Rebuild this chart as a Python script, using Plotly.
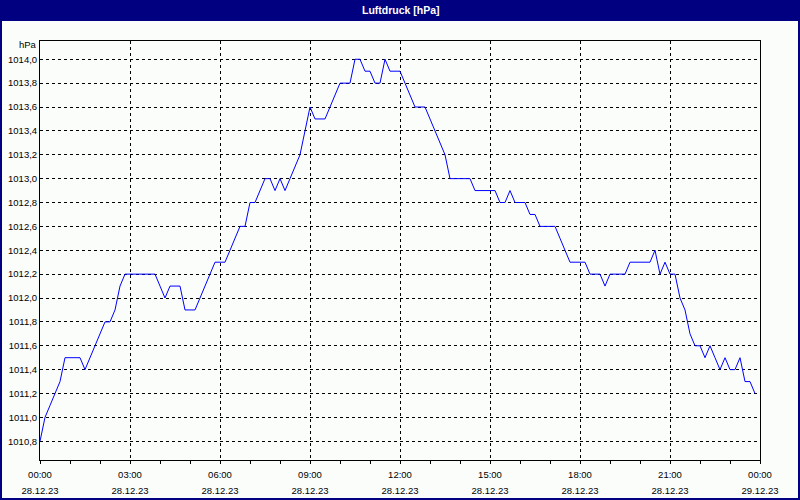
import plotly.graph_objects as go
import pandas as pd

# ---- data (10-minute readings, 28.12.23) ----
start_time = "2023-12-28 00:00"
n_points = 144
pressure = [
    1010.8, 1011.0, 1011.1, 1011.2, 1011.3, 1011.5, 1011.5, 1011.5, 1011.5, 1011.4,
    1011.5, 1011.6, 1011.7, 1011.8, 1011.8, 1011.9, 1012.1, 1012.2, 1012.2, 1012.2,
    1012.2, 1012.2, 1012.2, 1012.2, 1012.1, 1012.0, 1012.1, 1012.1, 1012.1, 1011.9,
    1011.9, 1011.9, 1012.0, 1012.1, 1012.2, 1012.3, 1012.3, 1012.3, 1012.4, 1012.5,
    1012.6, 1012.6, 1012.8, 1012.8, 1012.9, 1013.0, 1013.0, 1012.9, 1013.0, 1012.9,
    1013.0, 1013.1, 1013.2, 1013.4, 1013.6, 1013.5, 1013.5, 1013.5, 1013.6, 1013.7,
    1013.8, 1013.8, 1013.8, 1014.0, 1014.0, 1013.9, 1013.9, 1013.8, 1013.8, 1014.0,
    1013.9, 1013.9, 1013.9, 1013.8, 1013.7, 1013.6, 1013.6, 1013.6, 1013.5, 1013.4,
    1013.3, 1013.2, 1013.0, 1013.0, 1013.0, 1013.0, 1013.0, 1012.9, 1012.9, 1012.9,
    1012.9, 1012.9, 1012.8, 1012.8, 1012.9, 1012.8, 1012.8, 1012.8, 1012.7, 1012.7,
    1012.6, 1012.6, 1012.6, 1012.6, 1012.5, 1012.4, 1012.3, 1012.3, 1012.3, 1012.3,
    1012.2, 1012.2, 1012.2, 1012.1, 1012.2, 1012.2, 1012.2, 1012.2, 1012.3, 1012.3,
    1012.3, 1012.3, 1012.3, 1012.4, 1012.2, 1012.3, 1012.2, 1012.2, 1012.0, 1011.9,
    1011.7, 1011.6, 1011.6, 1011.5, 1011.6, 1011.5, 1011.4, 1011.5, 1011.4, 1011.4,
    1011.5, 1011.3, 1011.3, 1011.2,
]
times = pd.date_range(start_time, periods=n_points, freq="10min")

tick_vals = pd.date_range("2023-12-28 00:00", "2023-12-29 00:00", freq="3h")
tick_times = ["00:00", "03:00", "06:00", "09:00", "12:00", "15:00", "18:00", "21:00", "00:00"]
tick_dates = ["28.12.23"] * 8 + ["29.12.23"]

title_text = "Luftdruck [hPa]"
unit_text = "hPa"

# ---- figure ----
W, H = 800, 500
ML, MR, MT, MB = 40, 40, 41, 40
PH = H - MT - MB
PW = W - ML - MR


def py(pix):  # pixel y (from top) -> paper y
    return (H - MB - pix) / PH


def px(pix):  # pixel x -> paper x
    return (pix - ML) / PW


navy = "#000080"
bg = "#FBFDFB"
small = "<span style='font-size:9.5px'>{}</span>"
tick_text = [small.format(t) + "<br>" + small.format(d) for t, d in zip(tick_times, tick_dates)]

fig = go.Figure()
fig.add_trace(go.Scatter(x=times, y=pressure, mode="lines",
                         line=dict(color="#0000FF", width=1), hoverinfo="skip"))

fig.update_layout(
    width=W, height=H,
    margin=dict(l=ML, r=MR, t=MT, b=MB, pad=0, autoexpand=False),
    paper_bgcolor=bg, plot_bgcolor=bg,
    showlegend=False,
    separators=",.",
    font=dict(family="Liberation Sans, Arial, sans-serif", color="black", size=9),
)

fig.update_xaxes(
    range=[tick_vals[0], tick_vals[-1]],
    tickmode="array", tickvals=tick_vals, ticktext=tick_text,
    tickfont=dict(size=12),
    ticks="outside", ticklen=3, tickcolor="black", tickwidth=1,
    minor=dict(dtick=3600000, tick0="2023-12-28", ticks="outside", ticklen=3,
               tickcolor="black", showgrid=False),
    showgrid=True, gridcolor="black", gridwidth=1, griddash="3px,3px",
    showline=True, linecolor="black", linewidth=1, mirror=True,
    zeroline=False, fixedrange=True,
)
fig.update_yaxes(
    range=[1010.643, 1014.153],
    tick0=1010.8, dtick=0.2, tickformat=".1f",
    ticks="", tickfont=dict(size=9.5),
    showgrid=True, gridcolor="black", gridwidth=1, griddash="3px,3px",
    showline=True, linecolor="black", linewidth=1, mirror=True,
    zeroline=False, fixedrange=True,
)

# title bar
fig.add_shape(type="rect", xref="paper", yref="paper",
              x0=px(0), x1=px(W), y0=py(21), y1=py(0),
              fillcolor=navy, line=dict(width=0), layer="below")
# outer border
fig.add_shape(type="rect", xref="paper", yref="paper",
              x0=px(1), x1=px(W - 1), y0=py(H - 1), y1=py(1),
              fillcolor="rgba(0,0,0,0)", line=dict(color=navy, width=2))

fig.add_annotation(text="<b>" + title_text + "</b>", xref="paper", yref="paper",
                   x=px(401), y=py(10), xanchor="center", yanchor="middle",
                   showarrow=False, font=dict(color="white", size=10.5))
fig.add_annotation(text=unit_text, xref="paper", yref="paper",
                   x=px(39), y=py(44), xanchor="right", yanchor="middle",
                   showarrow=False, font=dict(size=9.5))

fig.write_html("out.html", config={"displayModeBar": False},
               post_script="document.body.style.margin='0';document.body.style.padding='0';")
